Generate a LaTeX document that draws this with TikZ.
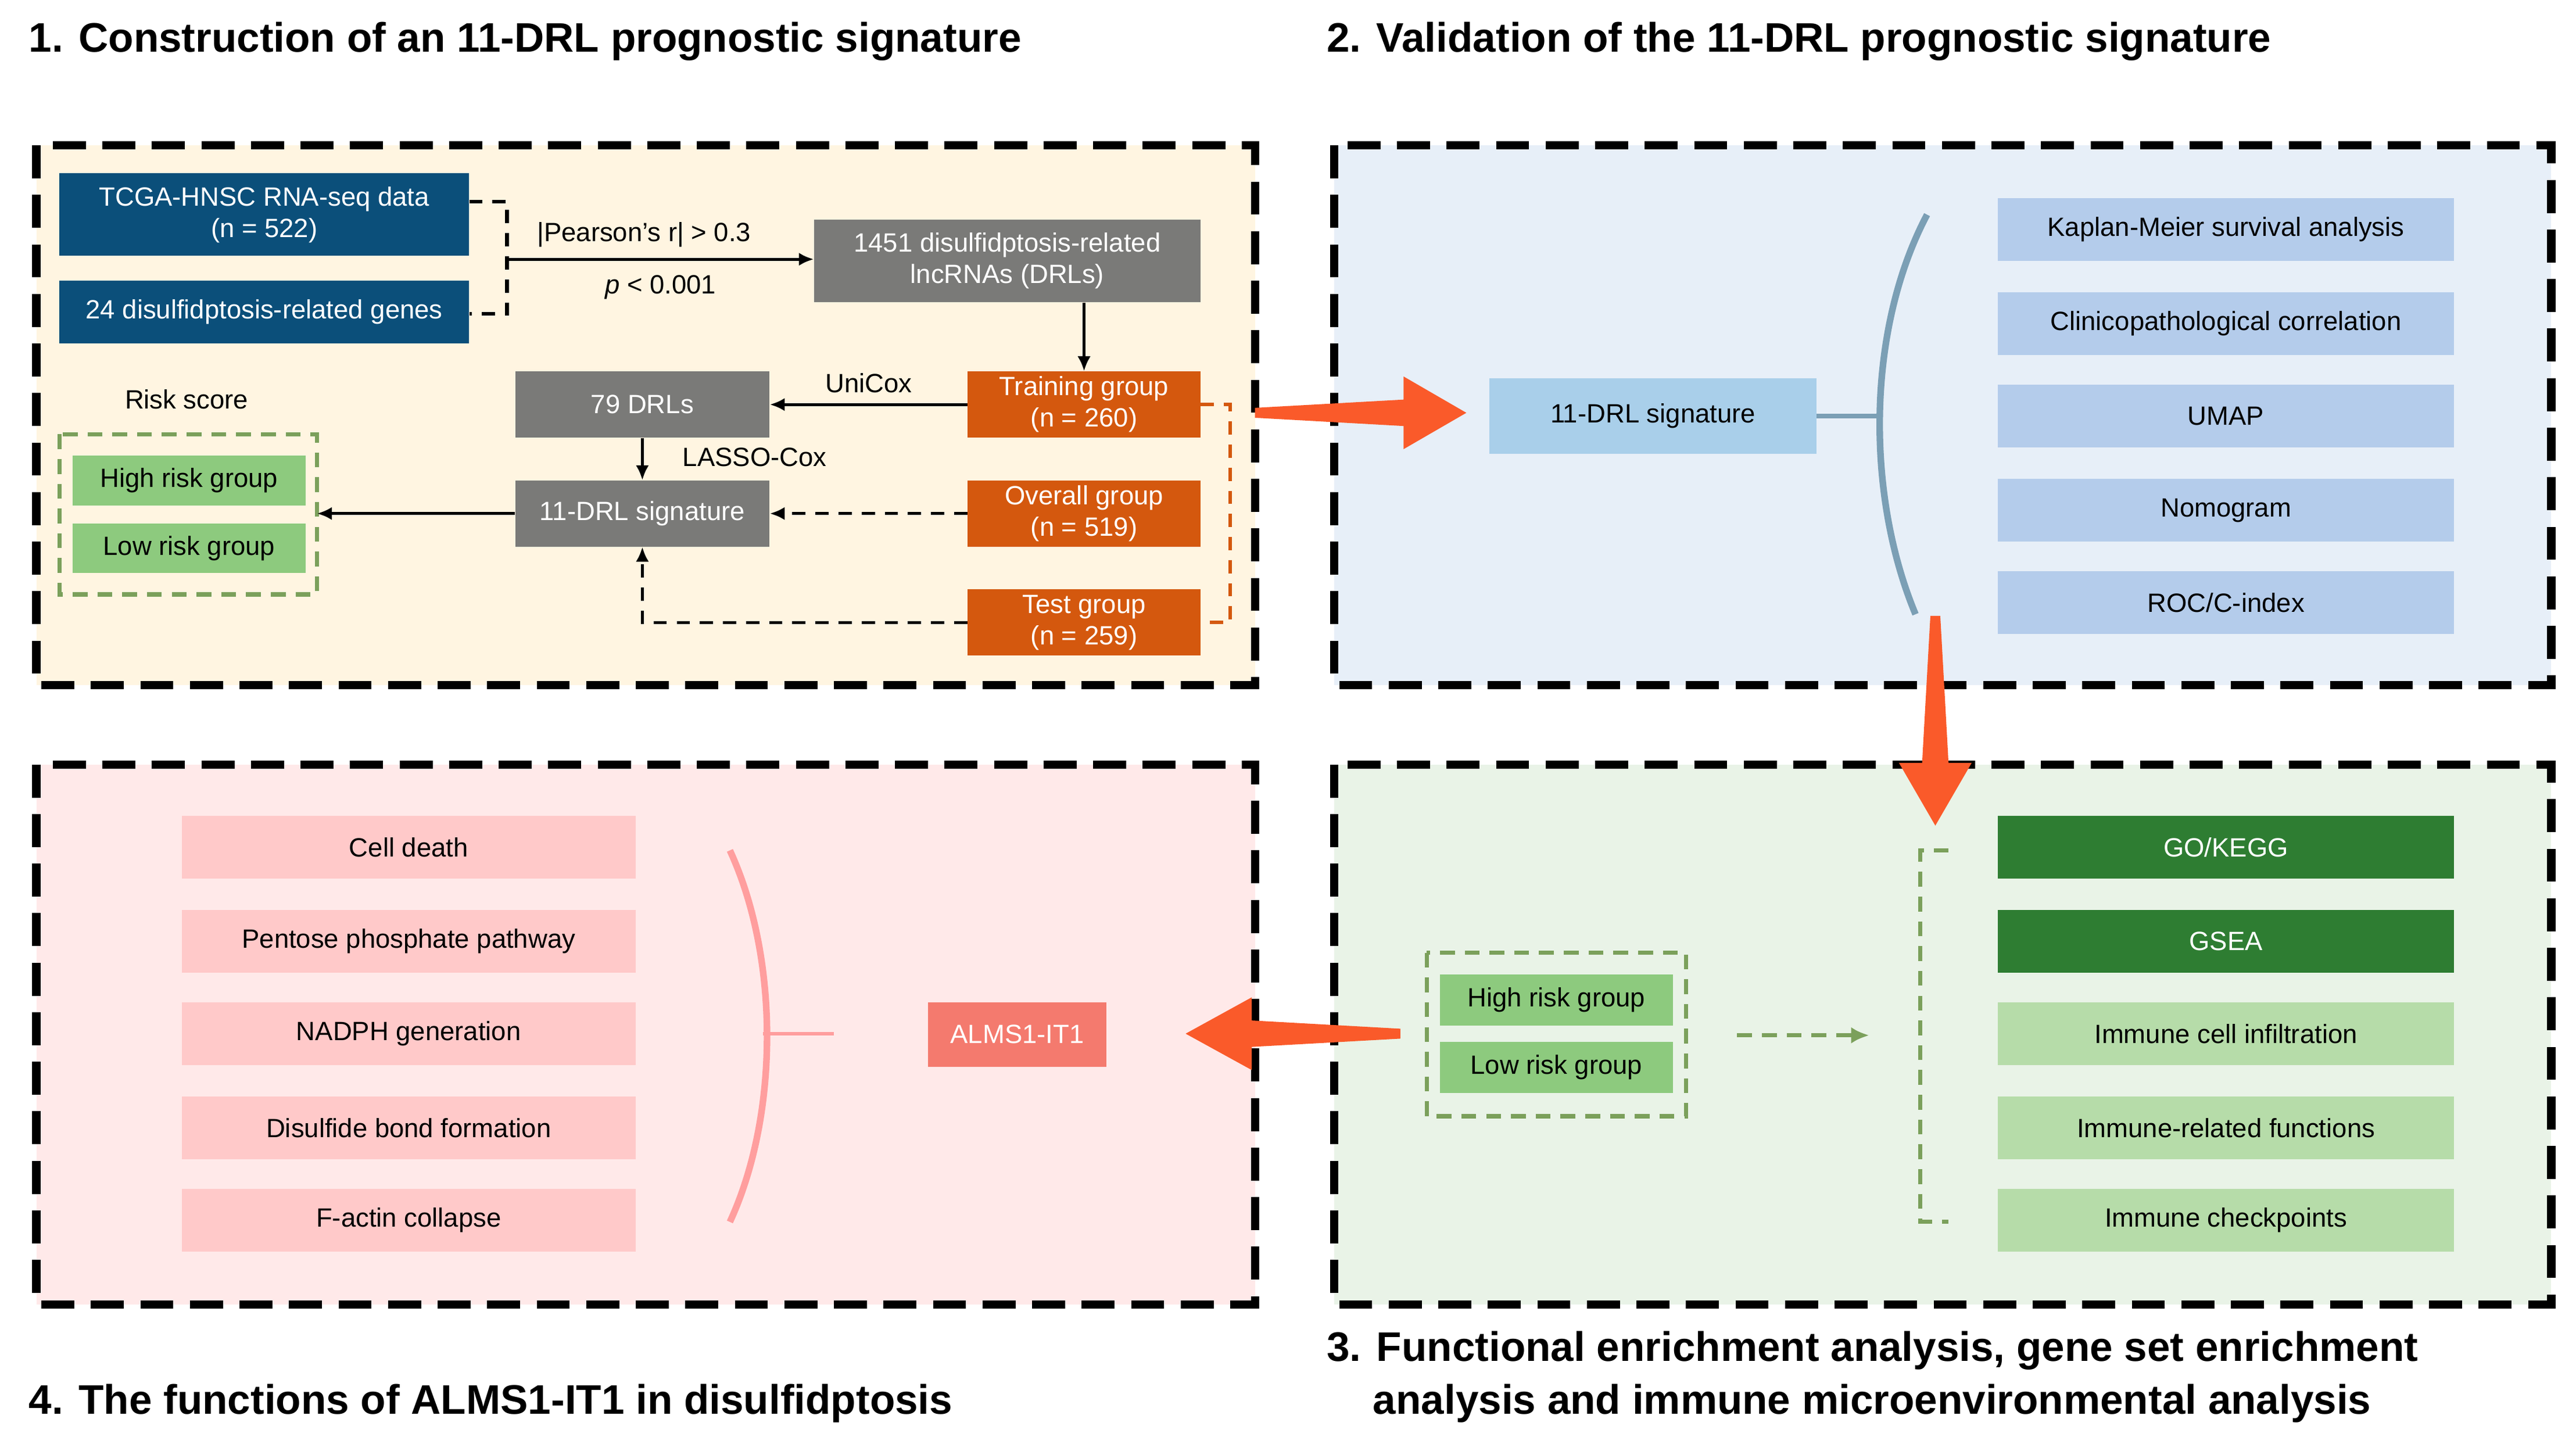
\documentclass[tikz,border=0pt]{standalone}
\usepackage{fontspec}
\setmainfont{Liberation Sans}
\usetikzlibrary{arrows.meta,positioning}
\definecolor{cream}{HTML}{FFF5E1}
\definecolor{lblue}{HTML}{E7EFF8}
\definecolor{lpink}{HTML}{FFE9E9}
\definecolor{lgreen}{HTML}{E9F3E7}
\definecolor{navy}{HTML}{0B4F7A}
\definecolor{gry}{HTML}{7A7A78}
\definecolor{orng}{HTML}{D4580E}
\definecolor{gbox}{HTML}{8DCA7E}
\definecolor{gdash}{HTML}{7BA05B}
\definecolor{sig}{HTML}{A9CFEA}
\definecolor{item2}{HTML}{B4CCEB}
\definecolor{arcb}{HTML}{7B9FB5}
\definecolor{dgreen}{HTML}{2E7D32}
\definecolor{item3}{HTML}{B6DCA9}
\definecolor{item4}{HTML}{FFC9C9}
\definecolor{arcp}{HTML}{FF9E9E}
\definecolor{alms}{HTML}{F47A6E}
\definecolor{bigarrow}{HTML}{FA5A2A}
\tikzset{
 x=1pt,y=-1pt,
 panel/.style={line width=5pt,dash pattern=on 20pt off 10pt},
 box/.style={inner sep=0pt,align=center,font=\fontsize{16}{19}\selectfont},
 wbox/.style={box,text=white},
 title/.style={anchor=west,font=\fontsize{25}{29}\selectfont\bfseries},
 lbl/.style={font=\fontsize{16}{19}\selectfont},
 conn/.style={line width=1.8pt,-{Latex[length=9pt,width=8pt]}},
 dconn/.style={conn,dash pattern=on 8pt off 6pt},
}
\begin{document}
\begin{tikzpicture}
\useasboundingbox (0,0) rectangle (1560,870);
% panels
\draw[panel,fill=cream] (22,88) rectangle (760,415);
\draw[panel,fill=lblue] (808,88) rectangle (1545,415);
\draw[panel,fill=lpink] (22,463) rectangle (760,790);
\draw[panel,fill=lgreen] (808,463) rectangle (1545,790);
% titles
\node[title] (t1) at (14,25) {1. Construction of an 11-DRL prognostic signature};
\node[title] (t2) at (800,25) {2. Validation of the 11-DRL prognostic signature};
\node[title] (t3) at (800,818) {3. Functional enrichment analysis, gene set enrichment};
\node[title] (t3b) at (828,850) {analysis and immune microenvironmental analysis};
\node[title] (t4) at (14,850) {4. The functions of ALMS1-IT1 in disulfidptosis};
% panel 1
\node[wbox,fill=navy,minimum width=248pt,minimum height=50pt] (tcga) at (160,130) {TCGA-HNSC RNA-seq data\\(n = 522)};
\node[wbox,fill=navy,minimum width=248pt,minimum height=38pt] (genes) at (160,189) {24 disulfidptosis-related genes};
\node[wbox,fill=gry,minimum width=234pt,minimum height=50pt] (drl) at (610,158) {1451 disulfidptosis-related\\lncRNAs (DRLs)};
\node[wbox,fill=orng,minimum width=141pt,minimum height=40pt] (train) at (656.5,245) {Training group\\(n = 260)};
\node[wbox,fill=orng,minimum width=141pt,minimum height=40pt] (overall) at (656.5,311) {Overall group\\(n = 519)};
\node[wbox,fill=orng,minimum width=141pt,minimum height=40pt] (test) at (656.5,377) {Test group\\(n = 259)};
\node[wbox,fill=gry,minimum width=154pt,minimum height=40pt] (d79) at (389,245) {79 DRLs};
\node[wbox,fill=gry,minimum width=154pt,minimum height=40pt] (s11) at (389,311) {11-DRL signature};
\coordinate (bx) at (307,157);
\draw[line width=2.2pt,dash pattern=on 8pt off 6pt] (tcga.east|-0,122) -| (bx) |- (genes.east|-0,190);
\draw[conn] (bx) -- (drl.west|-bx);
\node[lbl] (pear) at (390,142) {|Pearson’s r| > 0.3};
\node[lbl] (pv) at (400,174) {\textit{p} < 0.001};
\draw[conn] (drl.south-|train) -- (train.north);
\draw[conn] (train.west) -- (d79.east);
\node[lbl] (uni) at (526,232) {UniCox};
\draw[conn] (d79) -- (s11);
\node[lbl] (lasso) at (457,277) {LASSO-Cox};
\draw[dconn] (overall.west) -- (s11.east);
\coordinate (tc) at (389,377);
\draw[dconn] (test.west) -- (tc) -- (s11.south);
\draw[orng,line width=2.2pt,dash pattern=on 8pt off 6pt] (train.east) -- (745,245) -- (745,377) -- (test.east);
\node[lbl] (rs) at (113,242) {Risk score};
\draw[gdash,line width=2.5pt,dash pattern=on 9pt off 6pt] (36,263) rectangle (192,360);
\coordinate (gb) at (192,311);
\node[box,fill=gbox,minimum width=141pt,minimum height=30pt] (hr1) at (114.5,291) {High risk group};
\node[box,fill=gbox,minimum width=141pt,minimum height=30pt] (lr1) at (114.5,332) {Low risk group};
\draw[conn] (s11.west) -- (gb);
% big arrows
\fill[bigarrow] (760,247) -- (850,242) -- (850,228) -- (888,250) -- (850,272) -- (850,258) -- (760,253) -- cycle;
\fill[bigarrow] (1169,373) -- (1164,462) -- (1150,462) -- (1172,500) -- (1194,462) -- (1180,462) -- (1175,373) -- cycle;
\fill[bigarrow] (848,623) -- (758,618) -- (758,604) -- (718,626) -- (758,648) -- (758,634) -- (848,629) -- cycle;
% panel 2
\node[box,fill=sig,minimum width=198pt,minimum height=46pt] (sig2) at (1001,252) {11-DRL signature};
\draw[arcb,line width=4pt] (1167,130) .. controls (1130,200) and (1130,300) .. (1160,372);
\draw[arcb,line width=3pt] (sig2.east) -- (1140,252);
\foreach \n/\t/\y in {a/{Kaplan-Meier survival analysis}/139,b/{Clinicopathological correlation}/196,c/{UMAP}/252,d/{Nomogram}/309,e/{ROC/C-index}/365}
 \node[box,fill=item2,minimum width=276pt,minimum height=38pt] (v\n) at (1348,\y) {\t};
% panel 3
\draw[gdash,line width=2.5pt,dash pattern=on 9pt off 6pt] (864,577) rectangle (1021,676);
\node[box,fill=gbox,minimum width=141pt,minimum height=31pt] (hr3) at (942.5,605.5) {High risk group};
\node[box,fill=gbox,minimum width=141pt,minimum height=31pt] (lr3) at (942.5,646.5) {Low risk group};
\coordinate (ga) at (1052,627);
\coordinate (gz) at (1132,627);
\draw[gdash,line width=2.5pt,dash pattern=on 9pt off 6pt,-{Latex[length=11pt,width=10pt]}] (ga) -- (gz);
\draw[gdash,line width=2.5pt,dash pattern=on 9pt off 6pt] (1180,515) -- (1163,515) -- (1163,740) -- (1180,740);
\node[box,fill=dgreen,text=white,minimum width=276pt,minimum height=38pt] (fa) at (1348,513) {GO/KEGG};
\node[box,fill=dgreen,text=white,minimum width=276pt,minimum height=38pt] (fb) at (1348,570) {GSEA};
\foreach \n/\t/\y in {c/{Immune cell infiltration}/626,d/{Immune-related functions}/683,e/{Immune checkpoints}/739}
 \node[box,fill=item3,minimum width=276pt,minimum height=38pt] (f\n) at (1348,\y) {\t};
% panel 4
\foreach \n/\t/\y in {a/{Cell death}/513,b/{Pentose phosphate pathway}/570,c/{NADPH generation}/626,d/{Disulfide bond formation}/683,e/{F-actin collapse}/739}
 \node[box,fill=item4,minimum width=275pt,minimum height=38pt] (p\n) at (247.5,\y) {\t};
\draw[arcp,line width=4pt] (442,515) .. controls (472,580) and (472,675) .. (442,740);
\node[wbox,fill=alms,minimum width=108pt,minimum height=39pt] (al) at (616,626.5) {ALMS1-IT1};
\coordinate (pl) at (462,626);
\coordinate (pr) at (505,626);
\draw[arcp,line width=2pt] (pl) -- (pr);
\end{tikzpicture}
\end{document}
